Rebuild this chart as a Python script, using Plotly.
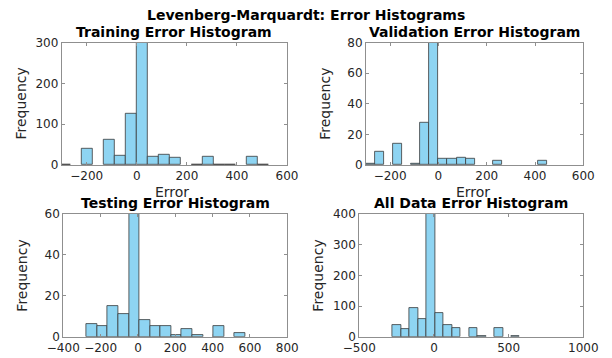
import plotly.graph_objects as go

# Error histograms from a Levenberg-Marquardt trained network.
# Each panel: bin edges (error units) and the counts per bin.

train_edges = [-308, -264, -220, -176, -132, -88, -44, 0, 44, 88, 132, 176,
               220, 264, 308, 352, 396, 440, 484, 528]
train_counts = [1, 0, 40, 0, 62, 22, 127, 340, 21, 25, 17, 0,
                1, 21, 1, 1, 0, 20, 1]

val_edges = [-300, -262.5, -225, -187.5, -150, -112.5, -75, -37.5, 0, 37.5,
             75, 112.5, 150, 187.5, 225, 262.5, 300, 337.5, 375, 412.5, 450]
val_counts = [1, 9, 0, 14, 0, 1, 28, 95, 4, 4, 5, 4, 0, 0, 3, 0, 0, 0, 0, 3]

test_edges = [-276, -219, -163, -106, -49, 8, 64, 121, 178, 234, 291, 348,
              404, 461, 518, 574]
test_counts = [6, 5, 15, 11, 70, 8, 5, 5, 1, 4, 1, 0, 5, 0, 2]

all_edges = [-276, -219, -163, -106, -49, 8, 64, 121, 178, 234, 291, 348,
             404, 461, 518, 574]
all_counts = [37, 26, 92, 59, 470, 77, 37, 28, 0, 30, 2, 0, 28, 0, 2]

panels = [
    dict(title="Training Error Histogram", edges=train_edges, counts=train_counts,
         xr=[-300, 600], xt=[-200, 0, 200, 400, 600], yr=[0, 300], yt=[0, 100, 200, 300],
         dx=[61.7, 287.0], dy=[42.7, 165.0], xlabel=True),
    dict(title="Validation Error Histogram", edges=val_edges, counts=val_counts,
         xr=[-300, 600], xt=[-200, 0, 200, 400, 600], yr=[0, 80], yt=[0, 20, 40, 60, 80],
         dx=[366.0, 583.3], dy=[42.7, 165.0], xlabel=True),
    dict(title="Testing Error Histogram", edges=test_edges, counts=test_counts,
         xr=[-400, 800], xt=[-400, -200, 0, 200, 400, 600, 800], yr=[0, 60], yt=[0, 20, 40, 60],
         dx=[63.3, 287.3], dy=[214.0, 336.7], xlabel=False),
    dict(title="All Data Error Histogram", edges=all_edges, counts=all_counts,
         xr=[-500, 1000], xt=[-500, 0, 500, 1000], yr=[0, 400], yt=[0, 100, 200, 300, 400],
         dx=[359.3, 583.3], dy=[214.0, 336.7], xlabel=False),
]

W, H = 612, 358
FONT = "DejaVu Sans"
TXT = "#262626"
AXC = "#8f8f8f"
FACE = "#8ED4F2"
EDGE = "#3a3a3a"

fig = go.Figure()
annotations = []


def label(text, px, py, size, color=TXT, angle=0):
    return dict(text=text, x=px / W, y=1 - py / H, xref="paper", yref="paper",
                xanchor="center", yanchor="middle", showarrow=False, textangle=angle,
                font=dict(family=FONT, size=size, color=color))


for i, p in enumerate(panels, start=1):
    xa = "x" if i == 1 else f"x{i}"
    ya = "y" if i == 1 else f"y{i}"
    e = p["edges"]
    centers = [(e[k] + e[k + 1]) / 2 for k in range(len(e) - 1)]
    widths = [e[k + 1] - e[k] for k in range(len(e) - 1)]
    # empty bins are left undrawn
    heights = [c if c else None for c in p["counts"]]
    fig.add_trace(go.Bar(
        x=centers, y=heights, width=widths, xaxis=xa, yaxis=ya,
        marker=dict(color=FACE, line=dict(color=EDGE, width=0.8)),
        showlegend=False, hoverinfo="skip",
    ))
    axis_common = dict(
        showline=True, mirror="ticks", linecolor=AXC, linewidth=1,
        ticks="inside", ticklen=3, tickcolor=AXC, tickwidth=1,
        showgrid=False, zeroline=False, fixedrange=True, automargin=False,
        tickangle=0, tickfont=dict(family=FONT, size=12, color=TXT),
    )
    x0, x1 = p["dx"]
    y0, y1 = p["dy"]
    fig.update_layout(**{
        ("xaxis" if i == 1 else f"xaxis{i}"): dict(
            axis_common, domain=[x0 / W, x1 / W], range=p["xr"], tickvals=p["xt"],
            anchor=ya),
        ("yaxis" if i == 1 else f"yaxis{i}"): dict(
            axis_common, domain=[1 - y1 / H, 1 - y0 / H], range=p["yr"], tickvals=p["yt"],
            anchor=xa),
    })
    xc = (x0 + x1) / 2
    annotations.append(label("Frequency", x0 - 41, (y0 + y1) / 2, 14, angle=-90))
    if p["xlabel"]:
        annotations.append(label("Error", xc - 2, y1 + 27, 14))

for p in panels:
    x0, x1 = p["dx"]
    y0, _ = p["dy"]
    annotations.append(label("<b>" + p["title"] + "</b>", (x0 + x1) / 2, y0 - 11, 14, "#000"))

annotations.append(label("<b>Levenberg-Marquardt: Error Histograms</b>", 306, 15, 14, "#000"))

fig.update_layout(
    width=W, height=H, margin=dict(l=0, r=0, t=0, b=0, autoexpand=False),
    paper_bgcolor="white", plot_bgcolor="white",
    bargap=0, annotations=annotations,
)

fig.write_html("out.html")
